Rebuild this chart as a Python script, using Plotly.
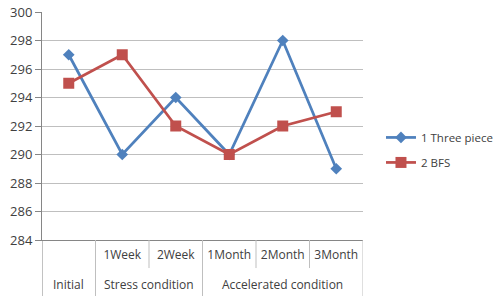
import plotly.graph_objects as go

categories = ["Initial", "1Week", "2Week", "1Month", "2Month", "3Month"]
period_labels = ["", "1Week", "2Week", "1Month", "2Month", "3Month"]
groups = ["Initial", "Stress condition", "Stress condition",
          "Accelerated condition", "Accelerated condition", "Accelerated condition"]
three_piece = [297, 290, 294, 290, 298, 289]
bfs = [295, 297, 292, 290, 292, 293]
y_ticks = [284, 286, 288, 290, 292, 294, 296, 298, 300]

AXIS = "#868686"
GRID = "#BFBFBF"
TXT = "#404040"
FONT = "Open Sans"

fig = go.Figure()
fig.add_trace(go.Scatter(
    x=categories, y=three_piece, name="1 Three piece", legendgroup="a",
    mode="lines+markers",
    line=dict(color="#4F81BD", width=2.75),
    marker=dict(symbol="diamond", size=9, color="#4F81BD")))
fig.add_trace(go.Scatter(
    x=categories, y=bfs, name="2 BFS", legendgroup="b",
    mode="lines+markers",
    line=dict(color="#C0504D", width=2.75),
    marker=dict(symbol="square", size=11, color="#C0504D")))

# group labels and dividers derived from the category/group lists
annotations = []
shapes = []
n = len(categories)
start = 0
for i in range(1, n + 1):
    if i == n or groups[i] != groups[start]:
        center = (start + i - 1) / 2
        annotations.append(dict(
            x=center, xref="x", y=-0.197, yref="paper", text=groups[start],
            showarrow=False, yanchor="middle",
            font=dict(family=FONT, size=12, color=TXT)))
        start = i
for b in range(n + 1):
    pos = b - 0.5
    full = b == 0 or b == n or groups[b] != groups[b - 1]
    shapes.append(dict(
        type="line", xref="x", yref="paper", x0=pos, x1=pos,
        y0=0, y1=-0.25 if full else -0.123,
        line=dict(color=AXIS if b == 0 else GRID, width=1)))

fig.update_layout(
    width=500, height=296, autosize=False,
    margin=dict(l=42, r=137, t=12, b=56, autoexpand=False),
    paper_bgcolor="white", plot_bgcolor="white",
    font=dict(family=FONT, size=12, color=TXT),
    legend=dict(x=1.056, y=0.395, xanchor="left", yanchor="middle",
                font=dict(family=FONT, size=11.5, color=TXT),
                tracegroupgap=6, itemwidth=30),
    showlegend=True,
    annotations=annotations, shapes=shapes,
)
fig.update_xaxes(
    type="category", range=[-0.5, n - 0.5], automargin=False,
    tickvals=categories, ticktext=period_labels,
    showline=True, linecolor=AXIS, linewidth=1,
    ticks="outside", ticklen=4, tickcolor="rgba(0,0,0,0)",
    showgrid=False, tickfont=dict(family=FONT, size=12, color=TXT))
fig.update_yaxes(
    range=[284, 300], tickvals=y_ticks, automargin=False,
    ticklabeloverflow="allow",
    showgrid=True, gridcolor=GRID,
    showline=True, linecolor=AXIS, ticks="outside", ticklen=6,
    tickcolor=AXIS, tickfont=dict(family=FONT, size=13, color=TXT),
    zeroline=False)

# remove the default 8px page margin so the figure fills the window exactly
fig.write_html(
    "out.html",
    config={"displayModeBar": False, "responsive": False},
    post_script="document.body.style.margin='0';document.body.style.overflow='hidden';",
)
